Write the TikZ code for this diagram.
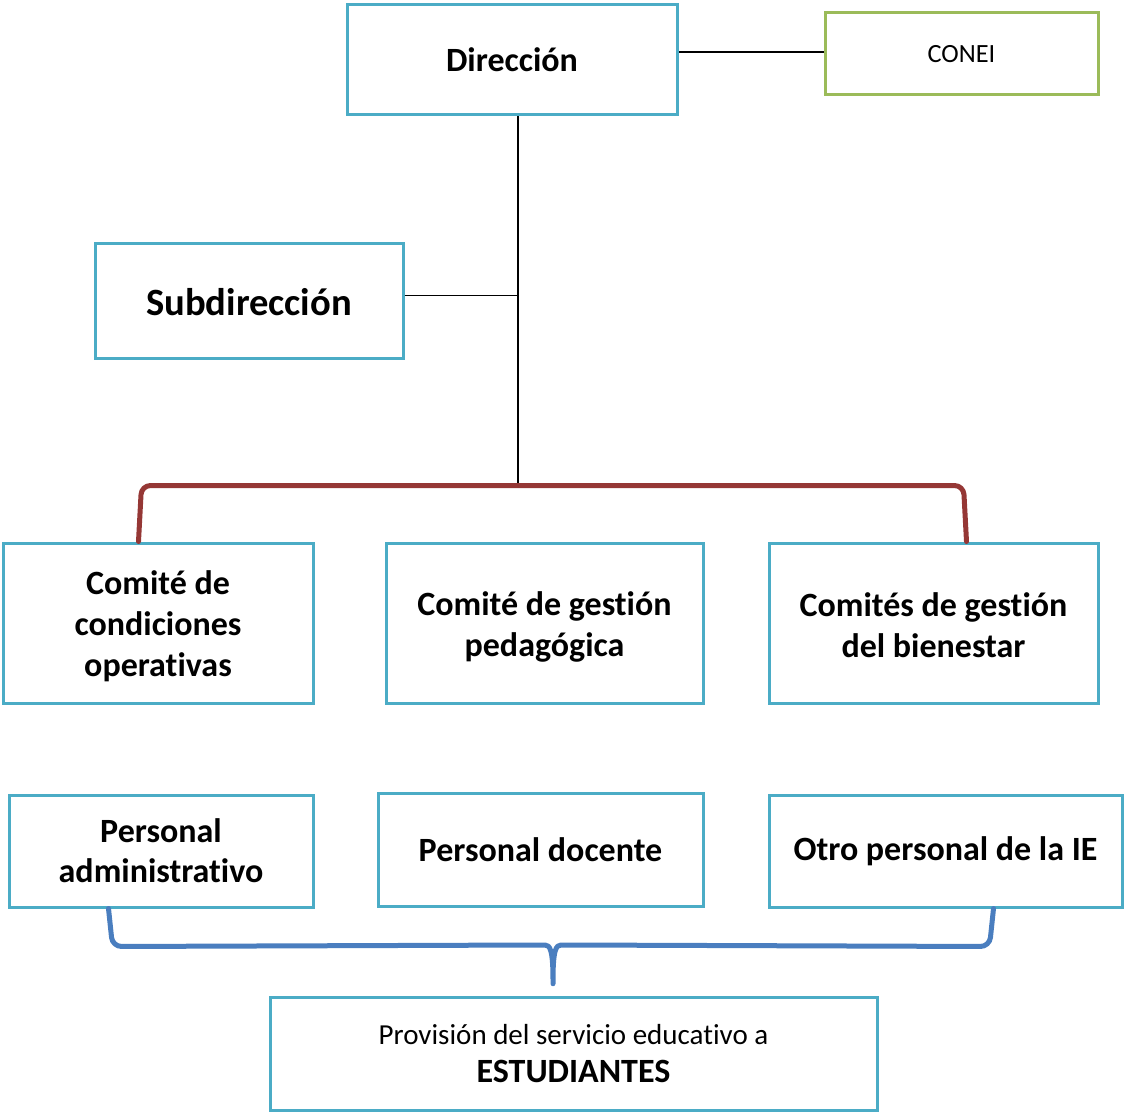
\documentclass[tikz,border=0pt]{standalone}
\usepackage{fontspec}
\setmainfont[Ligatures=NoCommon]{Carlito}
\usetikzlibrary{calc}
\definecolor{boxc}{HTML}{4BACC6}
\definecolor{grn}{HTML}{9BBB59}
\definecolor{redb}{HTML}{953735}
\definecolor{blub}{HTML}{4A7EBF}
\tikzset{
  box/.style={draw=boxc, line width=3pt, fill=white, align=center, inner sep=0pt, font=\bfseries\fontsize{34}{41}\selectfont},
  lbl/.style={align=center, inner sep=0pt, font=\bfseries\fontsize{34}{41}\selectfont},
  thin/.style={draw=black, line width=1.2pt},
  brace/.style={line width=5pt, line cap=round, line join=round}
}
\begin{document}
\begin{tikzpicture}[x=1pt,y=-1pt]
\useasboundingbox (0,0) rectangle (1124,1113);
\node[box, minimum width=330, minimum height=110, font=\bfseries\fontsize{34}{41}\selectfont] (dir) at (512,60) {Dirección};
\node[box, draw=grn, minimum width=273, minimum height=82, font=\fontsize{26.3}{32}\selectfont] (conei) at (961.5,54) {CONEI};
\node[box, minimum width=308, minimum height=115] (sub) at (249,300.5) {};
\node[lbl, font=\bfseries\fontsize{38.6}{46}\selectfont, yshift=-2pt] (subt) at (sub.center) {Subdirección};
\node[box, minimum width=310, minimum height=160] (c1) at (158,623) {};
\node[box, minimum width=317, minimum height=160] (c2) at (544.5,623) {};
\node[box, minimum width=329, minimum height=160] (c3) at (933.5,623) {};
\node[lbl, yshift=-3.5pt] (c1t) at (c1.center) {Comité de\\condiciones\\operativas};
\node[lbl, yshift=-4pt] (c2t) at (c2.center) {Comité de gestión\\pedagógica};
\node[lbl, yshift=-2pt] (c3t) at (c3.center) {Comités de gestión\\del bienestar};
\node[box, minimum width=304, minimum height=112, font=\bfseries\fontsize{34}{40}\selectfont] (p1) at (161,851) {Personal\\administrativo};
\node[box, minimum width=325, minimum height=113] (p2) at (540.5,849.5) {Personal docente};
\node[box, minimum width=353, minimum height=112] (p3) at (945.5,851) {Otro personal de la IE};
\node[box, minimum width=607, minimum height=113, font=\fontsize{29}{38}\selectfont] (est) at (573.5,1053.5) {Provisión del servicio educativo a\\{\bfseries\fontsize{34}{38}\selectfont ESTUDIANTES}};
\coordinate (rj) at (518,487);
\draw[thin] ($(conei.west)+(0,-2)$) -- ($(conei.west -| dir.east)+(0,-2)$);
\draw[thin] (dir.south -| rj) -- (rj);
\draw[thin] ($(sub.east)+(0,-5)$) -- ($(sub.east -| rj)+(0,-5)$);
\draw[brace, draw=redb, rounded corners=9pt] ($(c1.north west)+(137,0)$) -- ($(c1.north west)+(140,-56)$) -- ($(c3.north west)+(196,-56)$) -- ($(c3.north west)+(199,0)$);
\coordinate (bt) at (553,989);
\draw[brace, draw=blub, rounded corners=9pt] ($(p1.south west)+(101,0)$) -- ($(p1.south west)+(105,38)$) -- (536,945)
  .. controls (550,945) and (553,950) .. (bt)
  .. controls (553,950) and (556,945) .. (570,945) -- ($(p3.south west)+(222,38)$) -- ($(p3.south west)+(226,0)$);
\end{tikzpicture}
\end{document}
